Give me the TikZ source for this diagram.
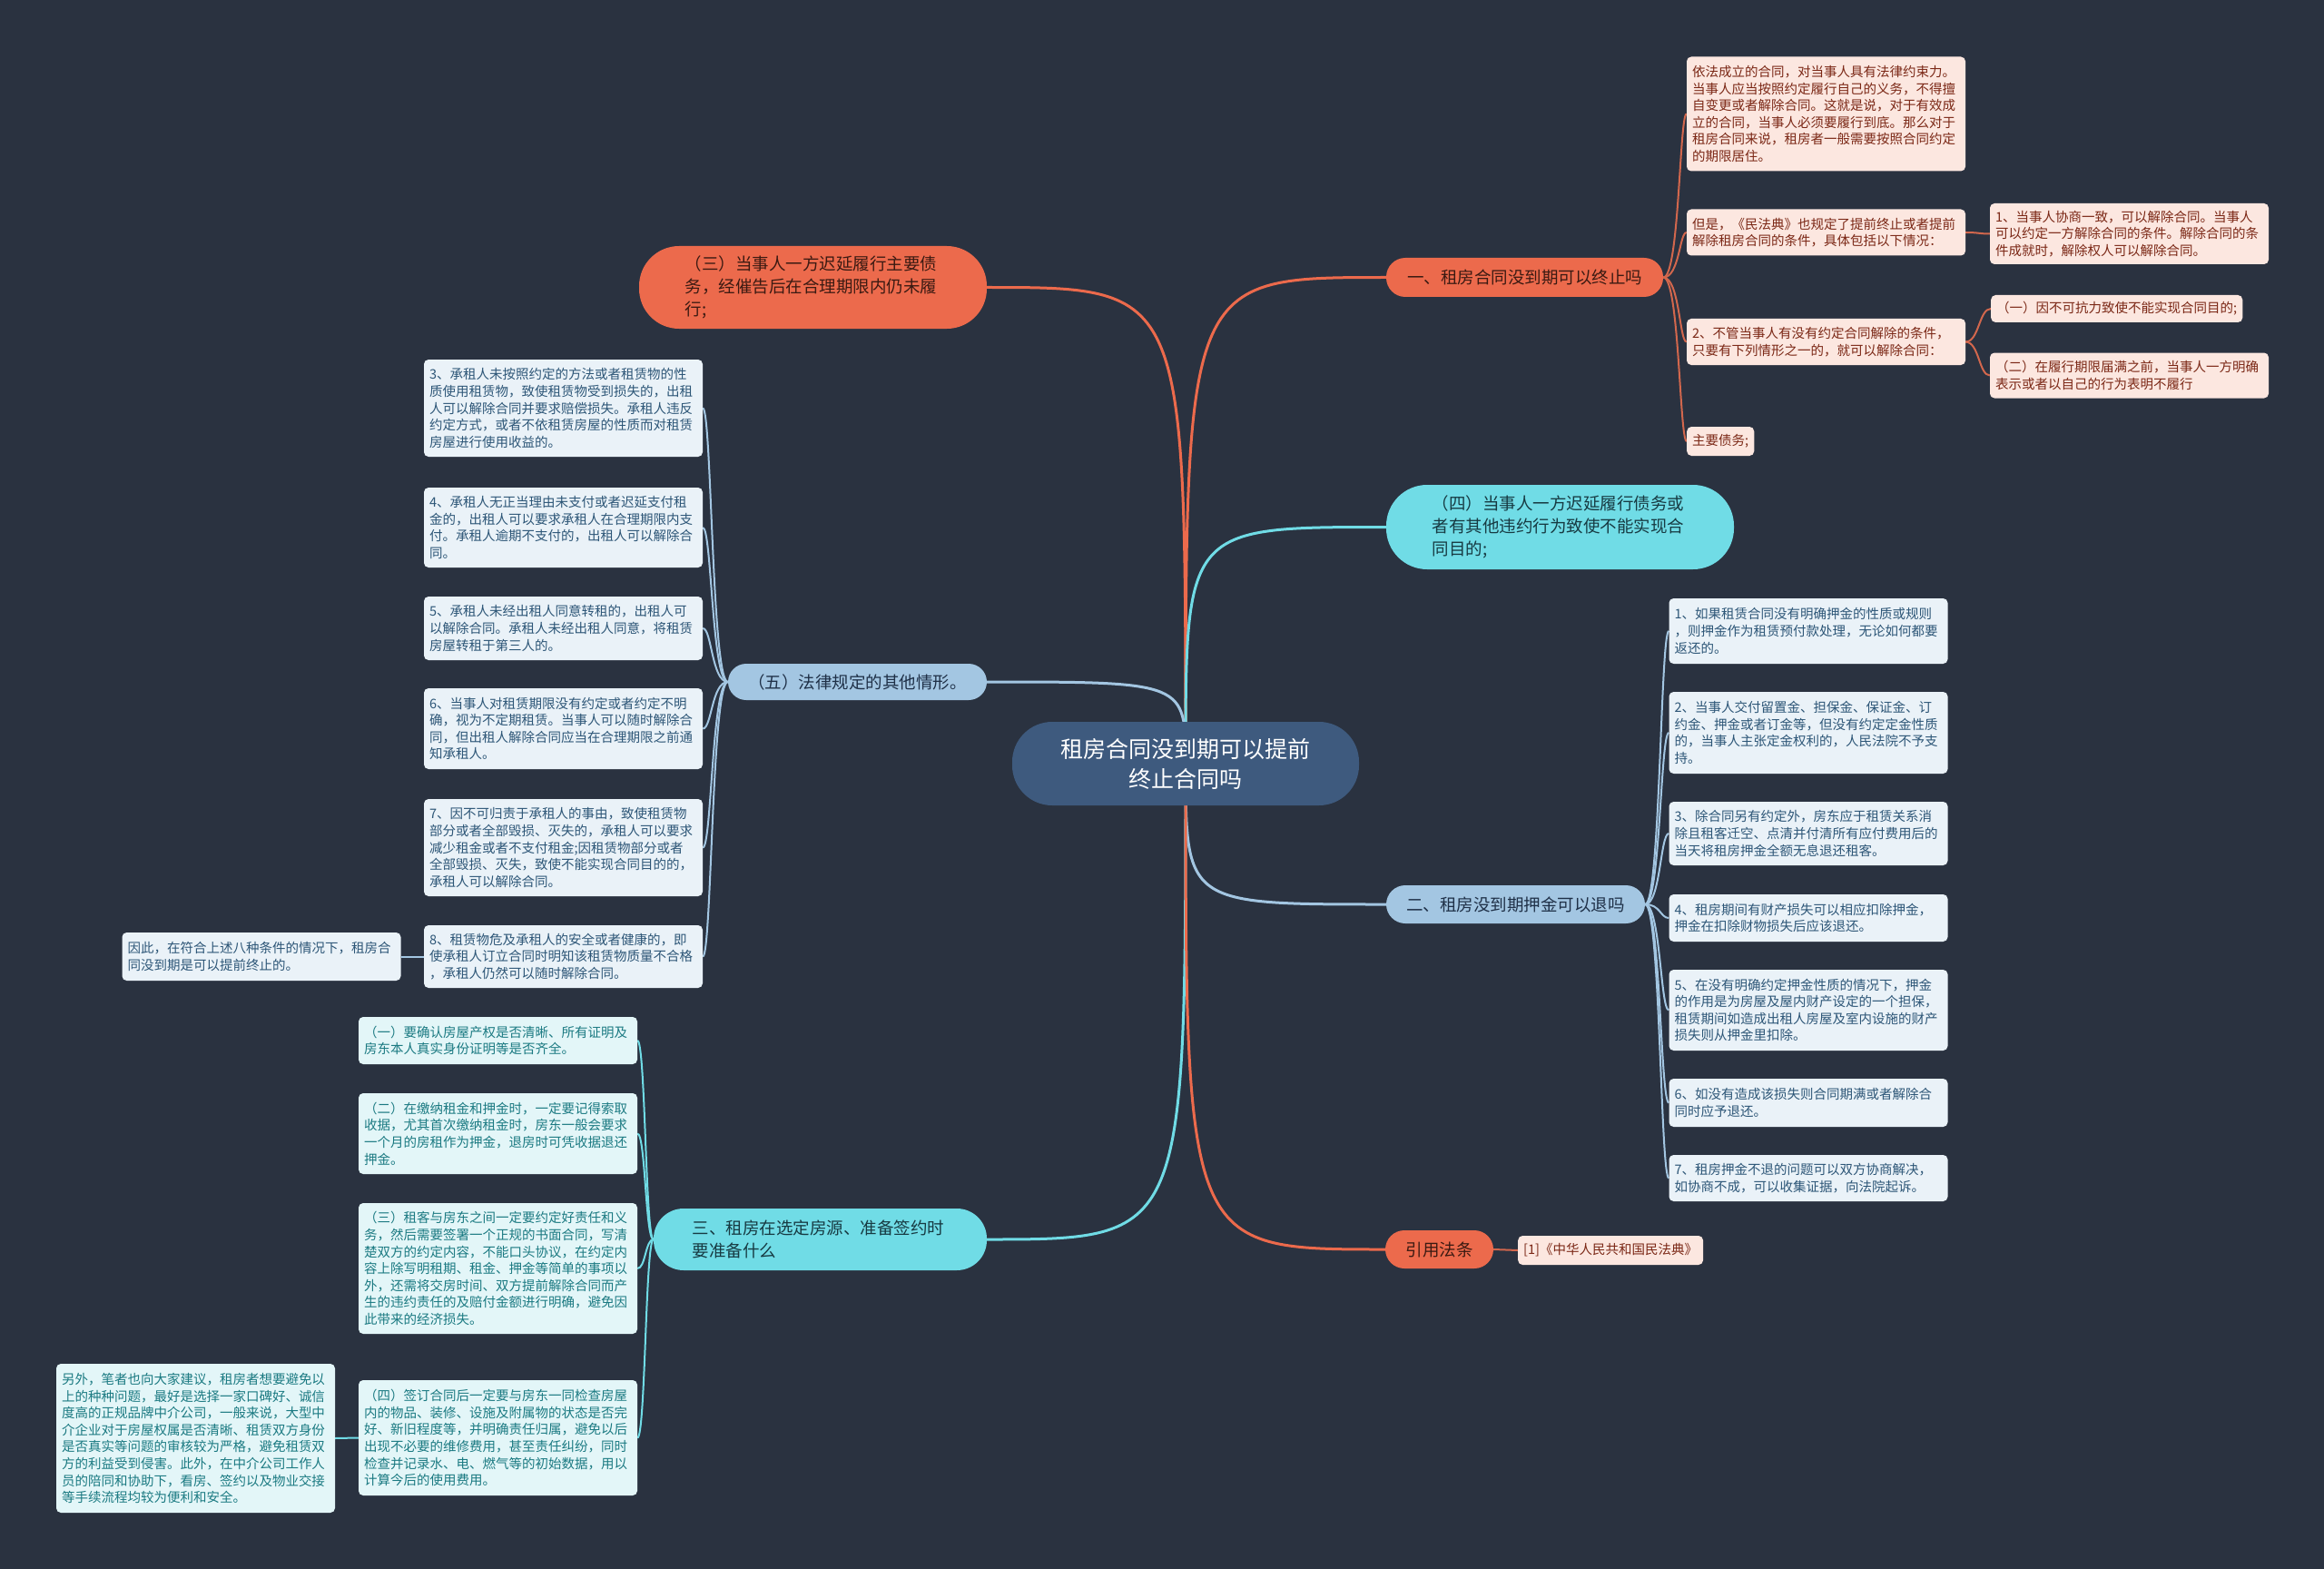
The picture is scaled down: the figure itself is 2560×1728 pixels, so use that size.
\documentclass[tikz,border=0pt]{standalone}
\usepackage{fontspec}
\setmainfont{Noto Sans CJK SC}
\usetikzlibrary{calc}
\pgfdeclarelayer{bgl}
\pgfdeclarelayer{lines}
\pgfsetlayers{bgl,lines,main}
\definecolor{bgc}{HTML}{2A3240}
\definecolor{orgc}{HTML}{EC6A4C}
\definecolor{orgtxt}{HTML}{3B1A12}
\definecolor{pinkf}{HTML}{FCE7E0}
\definecolor{pinkt}{HTML}{7B2816}
\definecolor{pinkl}{HTML}{D2674D}
\definecolor{lbc}{HTML}{A3C6E2}
\definecolor{lbtxt}{HTML}{1F3047}
\definecolor{lbf}{HTML}{EAF2F8}
\definecolor{lbt}{HTML}{2D5677}
\definecolor{cyc}{HTML}{70DCE6}
\definecolor{cytxt}{HTML}{173A42}
\definecolor{cyf}{HTML}{E3F6F8}
\definecolor{cyt}{HTML}{1B7A82}
\definecolor{ctrc}{HTML}{3E5A7E}
\newcommand\fsleaf{\fontsize{14.5pt}{18.6pt}\selectfont}
\newcommand\fspill{\fontsize{18.5pt}{25pt}\selectfont}
\newcommand\fsctr{\fontsize{25pt}{33pt}\selectfont}
\begin{document}
\begin{tikzpicture}[x=1pt,y=-1pt,
  leaf/.style={rectangle, rounded corners=5pt, inner xsep=6pt, inner ysep=4pt, font=\fsleaf, align=left},
  wbox/.style={text width=295pt},
  pinkbox/.style={leaf, fill=pinkf, text=pinkt},
  bluebox/.style={leaf, fill=lbf, text=lbt},
  cyanbox/.style={leaf, fill=cyf, text=cyt},
  pill/.style={rectangle, inner sep=0pt, font=\fspill, align=center},
  opill/.style={pill, fill=orgc, text=orgtxt},
  bpill/.style={pill, fill=lbc, text=lbtxt},
  cpill/.style={pill, fill=cyc, text=cytxt},
  mainc/.style={line width=3pt},
  leafc/.style={line width=2pt}
]
\begin{pgfonlayer}{bgl}
\fill[bgc] (0,0) rectangle (2560,1728);
\end{pgfonlayer}
\useasboundingbox (0,0) rectangle (2560,1728);

% central
\node[rectangle, rounded corners=44pt, fill=ctrc, text=white, font=\fsctr, align=center,
  minimum width=382pt, minimum height=92pt, inner sep=0pt] (ctr) at (1306,841)
  {租房合同没到期可以提前\\终止合同吗};

% branches
\node[opill, minimum width=305pt, minimum height=43pt, rounded corners=21pt] (b1) at (1679.5,305.5) {一、租房合同没到期可以终止吗};
\node[opill, minimum width=383pt, minimum height=91pt, rounded corners=44pt, text width=282pt, align=left] (b3) at (895.5,316.5)
  {（三）当事人一方迟延履行主要债\\务，经催告后在合理期限内仍未履\\行;};
\node[cpill, minimum width=383pt, minimum height=93pt, rounded corners=45pt, text width=282pt, align=left] (b4) at (1718.5,580.5)
  {（四）当事人一方迟延履行债务或\\者有其他违约行为致使不能实现合\\同目的;};
\node[bpill, minimum width=285pt, minimum height=40pt, rounded corners=20pt] (b5) at (944.5,751) {（五）法律规定的其他情形。};
\node[bpill, minimum width=285pt, minimum height=42pt, rounded corners=21pt] (b2) at (1669.5,996) {二、租房没到期押金可以退吗};
\node[cpill, minimum width=367pt, minimum height=68pt, rounded corners=33pt, text width=282pt, align=left] (b6) at (903.5,1365)
  {三、租房在选定房源、准备签约时\\要准备什么};
\node[opill, minimum width=119pt, minimum height=42pt, rounded corners=21pt] (b7) at (1585.5,1376) {引用法条};

% pink leaves
\node[pinkbox, wbox, minimum height=126pt] (A) at (2011.5,125.5)
  {依法成立的合同，对当事人具有法律约束力。\\当事人应当按照约定履行自己的义务，不得擅\\自变更或者解除合同。这就是说，对于有效成\\立的合同，当事人必须要履行到底。那么对于\\租房合同来说，租房者一般需要按照合同约定\\的期限居住。};
\node[pinkbox, wbox, minimum height=51pt] (B) at (2011.5,256)
  {但是，《民法典》也规定了提前终止或者提前\\解除租房合同的条件，具体包括以下情况：};
\node[pinkbox, wbox, minimum height=51pt] (C) at (2011.5,376.5)
  {2、不管当事人有没有约定合同解除的条件，\\只要有下列情形之一的，就可以解除合同：};
\node[pinkbox, minimum height=32pt, anchor=west] (D) at (1858,486) {主要债务;};
\node[pinkbox, wbox, minimum height=67pt] (B1) at (2345.5,257.5)
  {1、当事人协商一致，可以解除合同。当事人\\可以约定一方解除合同的条件。解除合同的条\\件成就时，解除权人可以解除合同。};
\node[pinkbox, minimum height=30pt, anchor=west] (C1) at (2193,340) {（一）因不可抗力致使不能实现合同目的;};
\node[pinkbox, wbox, minimum height=50pt] (C2) at (2345.5,413.5)
  {（二）在履行期限届满之前，当事人一方明确\\表示或者以自己的行为表明不履行};
\node[pinkbox, minimum height=32pt, anchor=west] (Ref) at (1672,1377) {[1]《中华人民共和国民法典》};

% (五) leaves
\node[bluebox, wbox, minimum height=107pt] (L3) at (620.5,449.5)
  {3、承租人未按照约定的方法或者租赁物的性\\质使用租赁物，致使租赁物受到损失的，出租\\人可以解除合同并要求赔偿损失。承租人违反\\约定方式，或者不依租赁房屋的性质而对租赁\\房屋进行使用收益的。};
\node[bluebox, wbox, minimum height=88pt] (L4) at (620.5,581)
  {4、承租人无正当理由未支付或者迟延支付租\\金的，出租人可以要求承租人在合理期限内支\\付。承租人逾期不支付的，出租人可以解除合\\同。};
\node[bluebox, wbox, minimum height=70pt] (L5) at (620.5,692)
  {5、承租人未经出租人同意转租的，出租人可\\以解除合同。承租人未经出租人同意，将租赁\\房屋转租于第三人的。};
\node[bluebox, wbox, minimum height=89pt] (L6) at (620.5,802.5)
  {6、当事人对租赁期限没有约定或者约定不明\\确，视为不定期租赁。当事人可以随时解除合\\同，但出租人解除合同应当在合理期限之前通\\知承租人。};
\node[bluebox, wbox, minimum height=107pt] (L7) at (620.5,933.5)
  {7、因不可归责于承租人的事由，致使租赁物\\部分或者全部毁损、灭失的，承租人可以要求\\减少租金或者不支付租金;因租赁物部分或者\\全部毁损、灭失，致使不能实现合同目的的，\\承租人可以解除合同。};
\node[bluebox, wbox, minimum height=69pt] (L8) at (620.5,1053.5)
  {8、租赁物危及承租人的安全或者健康的，即\\使承租人订立合同时明知该租赁物质量不合格\\，承租人仍然可以随时解除合同。};
\node[bluebox, wbox, minimum height=53pt] (L9) at (288,1053.5)
  {因此，在符合上述八种条件的情况下，租房合\\同没到期是可以提前终止的。};

% 二 leaves
\node[bluebox, wbox, minimum height=72pt] (R1) at (1992,695)
  {1、如果租赁合同没有明确押金的性质或规则\\，则押金作为租赁预付款处理，无论如何都要\\返还的。};
\node[bluebox, wbox, minimum height=90pt] (R2) at (1992,807)
  {2、当事人交付留置金、担保金、保证金、订\\约金、押金或者订金等，但没有约定定金性质\\的，当事人主张定金权利的，人民法院不予支\\持。};
\node[bluebox, wbox, minimum height=70pt] (R3) at (1992,918)
  {3、除合同另有约定外，房东应于租赁关系消\\除且租客迁空、点清并付清所有应付费用后的\\当天将租房押金全额无息退还租客。};
\node[bluebox, wbox, minimum height=52pt] (R4) at (1992,1011)
  {4、租房期间有财产损失可以相应扣除押金，\\押金在扣除财物损失后应该退还。};
\node[bluebox, wbox, minimum height=89pt] (R5) at (1992,1112.5)
  {5、在没有明确约定押金性质的情况下，押金\\的作用是为房屋及屋内财产设定的一个担保，\\租赁期间如造成出租人房屋及室内设施的财产\\损失则从押金里扣除。};
\node[bluebox, wbox, minimum height=53pt] (R6) at (1992,1214.5)
  {6、如没有造成该损失则合同期满或者解除合\\同时应予退还。};
\node[bluebox, wbox, minimum height=51pt] (R7) at (1992,1297.5)
  {7、租房押金不退的问题可以双方协商解决，\\如协商不成，可以收集证据，向法院起诉。};

% 三 leaves
\node[cyanbox, wbox, minimum height=52pt] (S1) at (548.5,1146)
  {（一）要确认房屋产权是否清晰、所有证明及\\房东本人真实身份证明等是否齐全。};
\node[cyanbox, wbox, minimum height=89pt] (S2) at (548.5,1248.5)
  {（二）在缴纳租金和押金时，一定要记得索取\\收据，尤其首次缴纳租金时，房东一般会要求\\一个月的房租作为押金，退房时可凭收据退还\\押金。};
\node[cyanbox, wbox, minimum height=144pt] (S3) at (548.5,1397)
  {（三）租客与房东之间一定要约定好责任和义\\务，然后需要签署一个正规的书面合同，写清\\楚双方的约定内容，不能口头协议，在约定内\\容上除写明租期、租金、押金等简单的事项以\\外，还需将交房时间、双方提前解除合同而产\\生的违约责任的及赔付金额进行明确，避免因\\此带来的经济损失。};
\node[cyanbox, wbox, minimum height=127pt] (S4) at (548.5,1583.5)
  {（四）签订合同后一定要与房东一同检查房屋\\内的物品、装修、设施及附属物的状态是否完\\好、新旧程度等，并明确责任归属，避免以后\\出现不必要的维修费用，甚至责任纠纷，同时\\检查并记录水、电、燃气等的初始数据，用以\\计算今后的使用费用。};
\node[cyanbox, wbox, minimum height=164pt] (S5) at (215.5,1584)
  {另外，笔者也向大家建议，租房者想要避免以\\上的种种问题，最好是选择一家口碑好、诚信\\度高的正规品牌中介公司，一般来说，大型中\\介企业对于房屋权属是否清晰、租赁双方身份\\是否真实等问题的审核较为严格，避免租赁双\\方的利益受到侵害。此外，在中介公司工作人\\员的陪同和协助下，看房、签约以及物业交接\\等手续流程均较为便利和安全。};

% spines
\coordinate (sp1) at (1850,0);
\coordinate (spBC) at (2180,0);
\coordinate (sp5) at (784,0);
\coordinate (sp2) at (1829,0);
\coordinate (sp6) at (711,0);

\begin{pgfonlayer}{lines}
% main connectors
\draw[mainc, orgc] (ctr.center) .. controls (ctr.center |- b1.west) .. (b1.west);
\draw[mainc, orgc] (ctr.center) .. controls (ctr.center |- b3.east) .. (b3.east);
\draw[mainc, cyc] (ctr.center) .. controls (ctr.center |- b4.west) .. (b4.west);
\draw[mainc, lbc] (ctr.center) .. controls (ctr.center |- b5.east) .. (b5.east);
\draw[mainc, lbc] (ctr.center) .. controls (ctr.center |- b2.west) .. (b2.west);
\draw[mainc, cyc] (ctr.center) .. controls (ctr.center |- b6.east) .. (b6.east);
\draw[mainc, orgc] (ctr.center) .. controls (ctr.center |- b7.west) .. (b7.west);
% 一 leaves
\foreach \t in {A,B,C,D}
  \draw[leafc, pinkl] (b1.east) .. controls (b1.east -| sp1) and (\t.west -| sp1) .. (\t.west);
\draw[leafc, pinkl] (B.east) .. controls (B.east -| spBC) and (B1.west -| spBC) .. (B1.west);
\foreach \t in {C1,C2}
  \draw[leafc, pinkl] (C.east) .. controls (C.east -| spBC) and (\t.west -| spBC) .. (\t.west);
\draw[leafc, pinkl] (b7.east) -- (Ref.west);
% (五) leaves
\foreach \t in {L3,L4,L5,L6,L7,L8}
  \draw[leafc, lbc] (b5.west) .. controls (b5.west -| sp5) and (\t.east -| sp5) .. (\t.east);
\draw[leafc, lbc] (L8.west) -- (L9.east);
% 二 leaves
\foreach \t in {R1,R2,R3,R4,R5,R6,R7}
  \draw[leafc, lbc] (b2.east) .. controls (b2.east -| sp2) and (\t.west -| sp2) .. (\t.west);
% 三 leaves
\foreach \t in {S1,S2,S3,S4}
  \draw[leafc, cyc] (b6.west) .. controls (b6.west -| sp6) and (\t.east -| sp6) .. (\t.east);
\draw[leafc, cyc] (S4.west) -- (S5.east);
\end{pgfonlayer}
\end{tikzpicture}
\end{document}
